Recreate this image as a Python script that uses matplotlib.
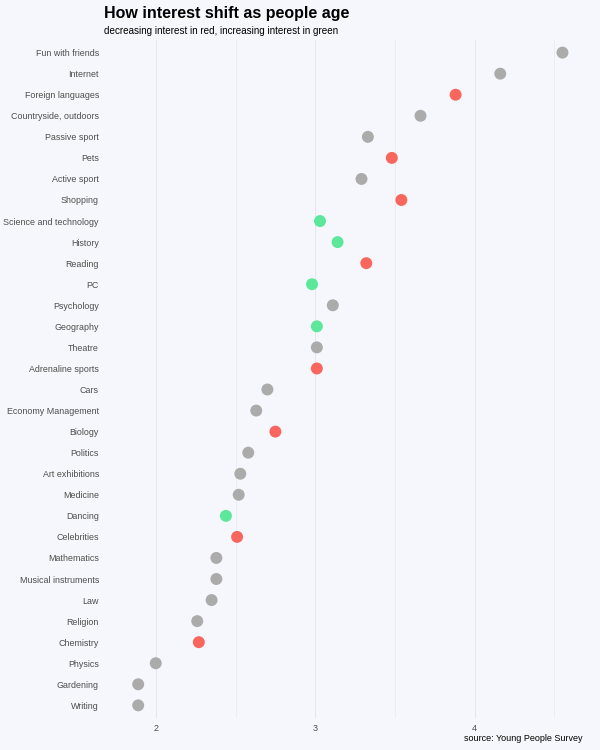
import matplotlib
matplotlib.use("Agg")
import matplotlib.pyplot as plt

# interests, ordered top to bottom
interests = ["Fun with friends", "Internet", "Foreign languages", "Countryside, outdoors",
             "Passive sport", "Pets", "Active sport", "Shopping", "Science and technology",
             "History", "Reading", "PC", "Psychology", "Geography", "Theatre",
             "Adrenaline sports", "Cars", "Economy Management", "Biology", "Politics",
             "Art exhibitions", "Medicine", "Dancing", "Celebrities", "Mathematics",
             "Musical instruments", "Law", "Religion", "Chemistry", "Physics",
             "Gardening", "Writing"]
mean_interest = [4.55, 4.16, 3.88, 3.66, 3.33, 3.48, 3.29, 3.54, 3.03, 3.14, 3.32, 2.98,
                 3.11, 3.01, 3.01, 3.01, 2.70, 2.63, 2.75, 2.58, 2.53, 2.52, 2.44, 2.51,
                 2.38, 2.38, 2.35, 2.26, 2.27, 2.00, 1.89, 1.89]
# trend with age: -1 decreasing, 0 none, 1 increasing
trend = [0, 0, -1, 0, 0, -1, 0, -1, 1, 1, -1, 1, 0, 1, 0, -1, 0, 0, -1, 0, 0, 0, 1, -1,
         0, 0, 0, 0, -1, 0, 0, 0]

trend_colors = {-1: "#F8665E", 0: "#ABABAB", 1: "#5CE79A"}
bg = "#F6F7FD"

plt.rcParams["font.family"] = ["Liberation Sans", "DejaVu Sans"]

fig = plt.figure(figsize=(6, 7.5), dpi=100, facecolor=bg)
ax = fig.add_axes([0.195, 0.0427, 0.777, 0.904])
ax.set_facecolor(bg)

ypos = list(range(len(interests)))
ax.scatter(mean_interest, ypos, s=74, c=[trend_colors[t] for t in trend],
           linewidths=0, zorder=3)

ax.set_xlim(1.757, 4.68)
ax.set_ylim(len(interests) - 0.4, -0.6)
ax.set_yticks(ypos)
ax.set_yticklabels(interests)
ax.set_xticks([2, 3, 4])
ax.set_xticks([2.5, 3.5, 4.5], minor=True)
ax.tick_params(axis="y", length=0, pad=13, labelsize=6.4, labelcolor="#4D4D4D")
ax.tick_params(axis="x", which="both", length=0, pad=4, labelsize=6.5, labelcolor="#4D4D4D")
ax.grid(axis="x", which="major", color="#E5E5EB", linewidth=0.7)
ax.grid(axis="x", which="minor", color="#EAEAF0", linewidth=0.55)
ax.grid(axis="y", visible=False)
ax.set_axisbelow(True)
for sp in ax.spines.values():
    sp.set_visible(False)

fig.text(104 / 600, 1 - 18 / 750, "How interest shift as people age",
         fontsize=11.5, fontweight="bold", ha="left", va="baseline")
fig.text(104 / 600, 1 - 34 / 750, "decreasing interest in red, increasing interest in green",
         fontsize=7.1, ha="left", va="baseline")
fig.text(582 / 600, 1 - 741 / 750, "source: Young People Survey",
         fontsize=6.5, ha="right", va="baseline")

fig.savefig("out.png", dpi=100, facecolor=bg)
